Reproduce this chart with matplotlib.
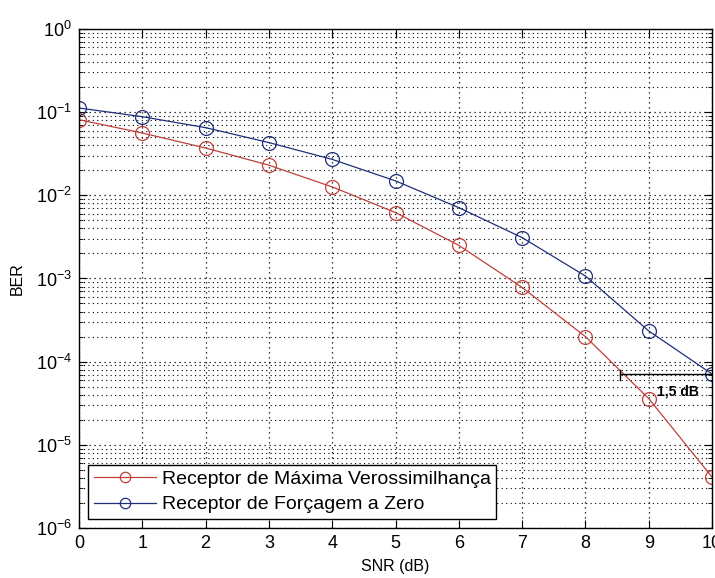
import numpy as np
import matplotlib
matplotlib.use('Agg')
from matplotlib import pyplot as plt
from matplotlib.ticker import LogLocator, NullFormatter

snr = [0, 1, 2, 3, 4, 5, 6, 7, 8, 9, 10]
ber_ml = [0.081, 0.056, 0.037, 0.023, 0.0126, 0.0062, 0.0025, 0.00078, 0.0002, 3.6e-5, 4.1e-6]
ber_zf = [0.112, 0.088, 0.065, 0.043, 0.027, 0.0149, 0.0071, 0.0031, 0.00107, 0.000234, 7.1e-5]
labels = ['Receptor de Máxima Verossimilhança', 'Receptor de Forçagem a Zero']
gap_text = '1,5 dB'
gap_x = [8.55, 10]
gap_y = 7.1e-5

plt.rcParams['font.family'] = ['Liberation Sans', 'DejaVu Sans']
plt.rcParams['mathtext.fontset'] = 'custom'
plt.rcParams['mathtext.rm'] = 'Liberation Sans'
plt.rcParams['mathtext.it'] = 'Liberation Sans'

fig = plt.figure(figsize=(7.15, 5.78), dpi=100)
ax = fig.add_axes([0.1105, 0.0865, 0.8853, 0.8635])

ax.semilogy(snr, ber_ml, '-o', color='#c0403a', lw=0.9, ms=10, mfc='none', mec='#c0403a', mew=0.9, label=labels[0])
ax.semilogy(snr, ber_zf, '-o', color='#1f2f7a', lw=0.9, ms=10, mfc='none', mec='#1f2f7a', mew=0.9, label=labels[1])

# marcação da diferença de 1,5 dB
ax.plot(gap_x, [gap_y, gap_y], color='black', lw=1.0)
ax.plot([gap_x[0], gap_x[0]], [gap_y * 0.85, gap_y * 1.12], color='black', lw=1.0)
ax.text(9.8, gap_y * 0.62, gap_text, fontsize=10, fontweight='bold', ha='right', va='center')

ax.set_xlim(0, 10)
ax.set_ylim(1e-6, 1)
ax.set_xticks(range(0, 11))
ax.yaxis.set_major_locator(LogLocator(base=10, numticks=10))
ax.yaxis.set_minor_locator(LogLocator(base=10, subs=np.arange(2, 10), numticks=10))
ax.yaxis.set_minor_formatter(NullFormatter())

dots = (0, (1, 3))
ax.grid(True, which='major', linestyle=dots, color='black', lw=0.9)
ax.grid(True, which='minor', axis='y', linestyle=dots, color='black', lw=0.8)
ax.tick_params(which='both', direction='in', top=True, right=True, labelsize=13)
ax.tick_params(which='major', length=6, pad=5)
ax.tick_params(which='minor', length=3)
for s in ax.spines.values():
    s.set_linewidth(1.0)

ax.set_xlabel('SNR (dB)', fontsize=11.5, labelpad=5)
ax.set_ylabel('BER', fontsize=11.5, labelpad=8)

leg = ax.legend(loc='lower left', fontsize=14, fancybox=False, framealpha=1,
                edgecolor='black', borderaxespad=0.45, handlelength=3.2, borderpad=0.3,
                labelspacing=0.4, handletextpad=0.3, markerscale=0.75)
leg.get_frame().set_linewidth(1.0)

fig.savefig('out.png', dpi=100)
